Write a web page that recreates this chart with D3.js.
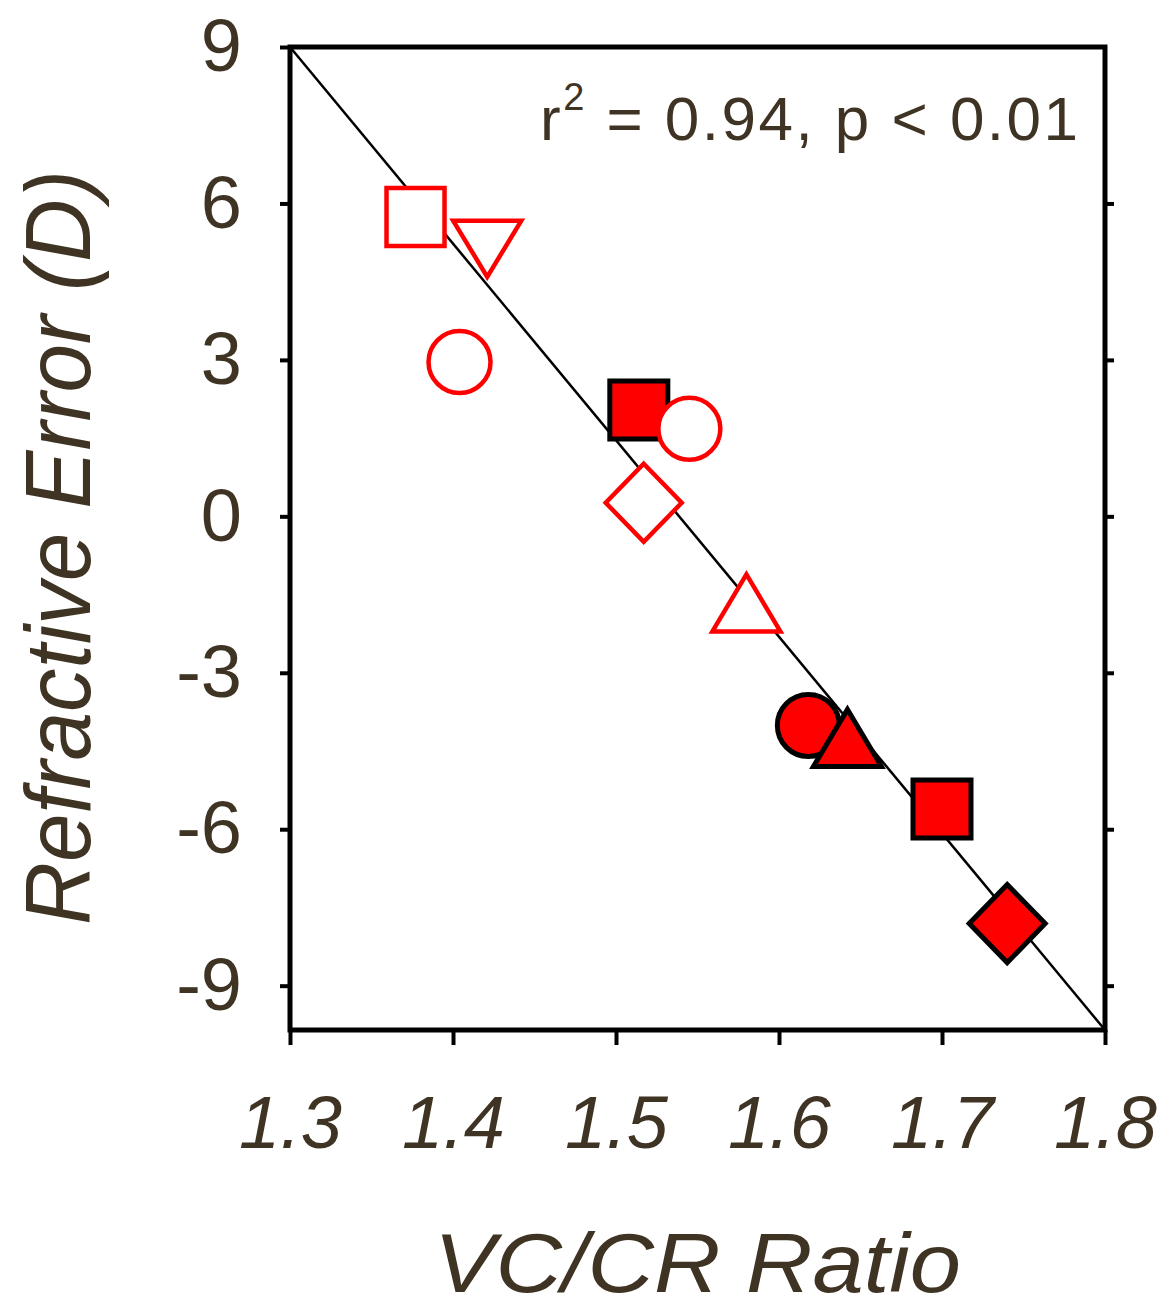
<!DOCTYPE html>
<html>
<head>
<meta charset="utf-8">
<script src="https://cdn.jsdelivr.net/npm/d3@7"></script>
<style>
  body { margin: 0; background: #fff; }
  text { font-family: "Liberation Sans", Arial, sans-serif; }
</style>
</head>
<body>
<script>
// data
const vcCrRatio = [1.377, 1.421, 1.404, 1.514, 1.545, 1.517, 1.580, 1.618, 1.642, 1.700, 1.740];
const refractiveError = [5.74, 5.13, 2.96, 2.04, 1.68, 0.26, -1.66, -4.01, -4.25, -5.61, -7.81];
const markerShape = ["square", "triangleDown", "circle", "square", "circle", "diamond", "triangle", "circle", "triangle", "square", "diamond"];
const markerFilled = [false, false, false, true, false, false, false, true, true, true, true];

const xTicks = [1.3, 1.4, 1.5, 1.6, 1.7, 1.8];
const yTicks = [-9, -6, -3, 0, 3, 6, 9];

// regression line end points
const fitX = [1.3, 1.8];
const fitY = [9, -9.85];

const wSvg = 1175;
const hSvg = 1313;
const xLeft = 290, xRight = 1105, yTop = 47, yBottom = 1030;
const textCol = "#3f3424";

const svg = d3.select("body")
    .append("svg")
    .attr("width", wSvg)
    .attr("height", hSvg);

const xScale = d3.scaleLinear([1.3, 1.8], [xLeft, xRight]);
const yScale = d3.scaleLinear([-9.85, 9], [yBottom, yTop]);

// symbols centred on their bounding box
const shapes = {
    square: { draw(c) { const s = 58; c.rect(-s / 2, -s / 2, s, s); } },
    circle: { draw(c) { c.moveTo(31, 0); c.arc(0, 0, 31, 0, 2 * Math.PI); } },
    diamond: { draw(c) { const w = 76, h = 78; c.moveTo(0, -h / 2); c.lineTo(w / 2, 0); c.lineTo(0, h / 2); c.lineTo(-w / 2, 0); c.closePath(); } },
    triangle: { draw(c) { const w = 68, h = 57; c.moveTo(0, -h / 2); c.lineTo(w / 2, h / 2); c.lineTo(-w / 2, h / 2); c.closePath(); } },
    triangleDown: { draw(c) { const w = 68, h = 56; c.moveTo(0, h / 2); c.lineTo(w / 2, -h / 2); c.lineTo(-w / 2, -h / 2); c.closePath(); } }
};

// axes
const xAxis = svg.append("g")
    .attr("transform", `translate(0, ${yBottom})`)
    .call(d3.axisBottom(xScale).tickValues(xTicks).tickFormat(d3.format(".1f")).tickSize(15).tickSizeOuter(0).tickPadding(50));

const yAxis = svg.append("g")
    .attr("transform", `translate(${xLeft}, 0)`)
    .call(d3.axisLeft(yScale).tickValues(yTicks).tickFormat(d => String(d)).tickSize(10).tickSizeOuter(0).tickPadding(38));

const yAxisRight = svg.append("g")
    .attr("transform", `translate(${xRight}, 0)`)
    .call(d3.axisRight(yScale).tickValues(yTicks.filter(d => d < 9)).tickSize(9).tickSizeOuter(0).tickFormat(""));

svg.selectAll(".domain").remove();
svg.selectAll(".tick line").attr("stroke", "#000").attr("stroke-width", 4);
svg.selectAll(".tick text")
    .attr("fill", textCol)
    .attr("font-size", 74)
    .attr("font-family", "'Liberation Sans', Arial, sans-serif");
xAxis.selectAll(".tick text").attr("font-style", "italic");

// frame
svg.append("rect")
    .attr("x", xLeft)
    .attr("y", yTop)
    .attr("width", xRight - xLeft)
    .attr("height", yBottom - yTop)
    .attr("fill", "none")
    .attr("stroke", "#000")
    .attr("stroke-width", 5);

// regression line
const dMaker = d3.line()
    .x(d => xScale(d[0]))
    .y(d => yScale(d[1]));

svg.append("path")
    .datum(d3.zip(fitX, fitY))
    .attr("fill", "none")
    .attr("stroke", "#000")
    .attr("stroke-width", 2.5)
    .attr("d", dMaker);

// markers
const points = vcCrRatio.map((x, i) => ({ x: x, y: refractiveError[i], shape: markerShape[i], filled: markerFilled[i] }));

svg.append("g")
    .selectAll("path")
    .data(points)
    .enter()
    .append("path")
    .attr("transform", d => `translate(${xScale(d.x)}, ${yScale(d.y)})`)
    .attr("d", d => d3.symbol().type(shapes[d.shape])())
    .attr("fill", d => d.filled ? "#ff0000" : "#fff")
    .attr("stroke", d => d.filled ? "#000" : "#ff0000")
    .attr("stroke-width", d => d.filled ? 5 : 4.5);

// statistics note
const note = svg.append("text")
    .attr("x", 540)
    .attr("y", 140)
    .attr("font-size", 62)
    .attr("fill", textCol);
note.append("tspan").text("r");
note.append("tspan").attr("dy", -30).attr("font-size", 38).text("2");
note.append("tspan").attr("dy", 30).text(" = 0.94,  p < 0.01");
note.attr("textLength", 538).attr("lengthAdjust", "spacing");

// axis titles
svg.append("text")
    .attr("x", 434)
    .attr("y", 1292)
    .attr("font-size", 84)
    .attr("font-style", "italic")
    .attr("fill", textCol)
    .attr("textLength", 527)
    .attr("lengthAdjust", "spacingAndGlyphs")
    .text("VC/CR Ratio");

svg.append("text")
    .attr("transform", "translate(90, 925) rotate(-90)")
    .attr("font-size", 92)
    .attr("font-style", "italic")
    .attr("fill", textCol)
    .attr("textLength", 755)
    .attr("lengthAdjust", "spacingAndGlyphs")
    .text("Refractive Error (D)");
</script>
</body>
</html>
